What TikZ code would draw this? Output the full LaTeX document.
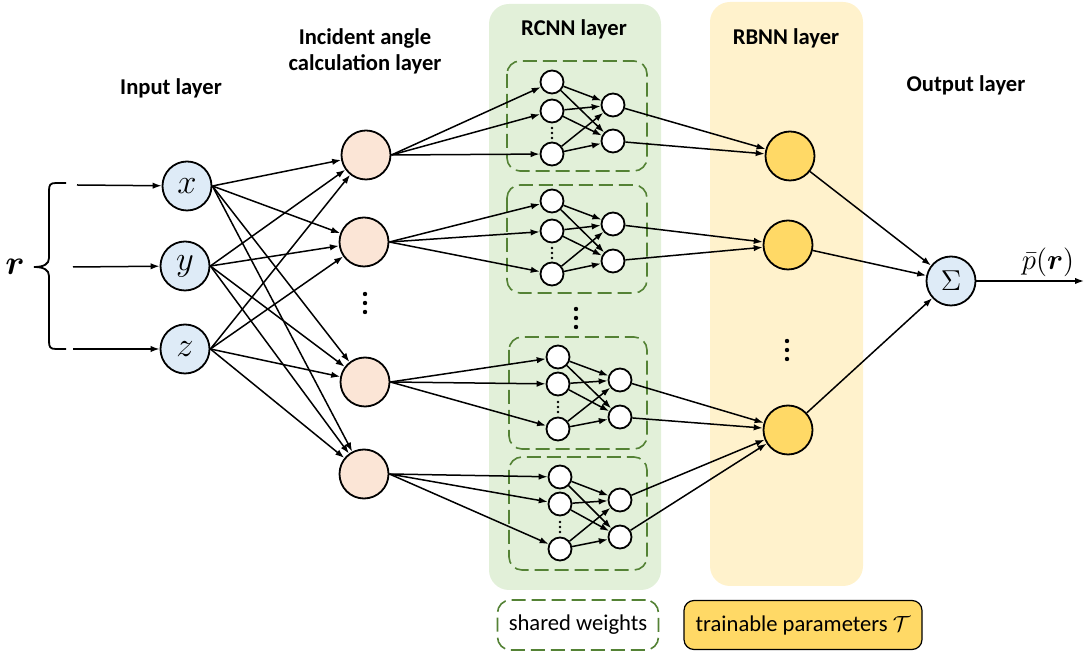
\documentclass[tikz,border=0pt]{standalone}
\usepackage{fontspec}
\setmainfont{Carlito}
\usepackage{amsmath}
\usepackage{bm}
\usetikzlibrary{arrows.meta, backgrounds}
\definecolor{nninput}{HTML}{DEEBF7}
\definecolor{nnangle}{HTML}{FBE5D6}
\definecolor{nnrbnn}{HTML}{FFD966}
\definecolor{nnrcnnbg}{HTML}{E2F0D9}
\definecolor{nnrbnnbg}{HTML}{FFF2CC}
\definecolor{nnshared}{HTML}{548235}

\begin{document}
\begin{tikzpicture}[
    x=0.5pt, y=-0.5pt,
    every node/.style={align=center, inner sep=0pt, font=\fontsize{11.3}{13.5}\selectfont},
    nn-input/.style={circle, draw, line width=0.9pt, fill=nninput,
        minimum size=24.5pt, font=\fontsize{16.5}{18}\selectfont},
    nn-angle/.style={circle, draw, line width=0.9pt, fill=nnangle, minimum size=24.5pt},
    nn-rbnn/.style={circle, draw, line width=0.9pt, fill=nnrbnn, minimum size=24.5pt},
    nn-small/.style={circle, draw, line width=0.9pt, fill=white, minimum size=11.5pt},
    nn-title/.style={font=\fontsize{11.3}{13}\selectfont\bfseries},
    nn-group/.style={draw=nnshared, line width=0.8pt, dash pattern=on 7pt off 3pt,
        rounded corners=6.5pt},
    nn-arrow/.style={-{Latex[length=4.5pt, width=3.2pt]}, line width=0.75pt},
]
    \useasboundingbox (0,0) rectangle (1086,656);

    % ---- BACKGROUND BANDS ----
    \fill[nnrcnnbg, rounded corners=10pt] (489,4) rectangle (661,590);
    \fill[nnrbnnbg, rounded corners=10pt] (710,2) rectangle (863,586);

    % ---- TITLES ----
    \node[nn-title] (t-input)  at (171,88) {Input layer};
    \node[nn-title] (t-angle)  at (365,51) {Incident angle\\calculation layer};
    \node[nn-title] (t-rcnn)   at (574,29) {RCNN layer};
    \node[nn-title] (t-rbnn)   at (786,38) {RBNN layer};
    \node[nn-title] (t-output) at (966,85) {Output layer};

    % ---- INPUT: r and its brace ----
    \node[font=\fontsize{18}{18}\selectfont] (r) at (15,267) {$\bm{r}$};
    \draw[line width=0.9pt] (66,183) -- (56,183) .. controls (50,183) and (49,185) .. (49,191)
        -- (49,258) .. controls (49,264) and (44,267) .. (34,267)
        .. controls (44,267) and (49,270) .. (49,276)
        -- (49,341) .. controls (49,347) and (50,349) .. (56,349) -- (66,349);
    \coordinate (r-x) at (77,185);
    \coordinate (r-y) at (73,267);
    \coordinate (r-z) at (73,349);

    \node[nn-input] (in-x) at (187,186) {$x$};
    \node[nn-input] (in-y) at (185,266) {$y$};
    \node[nn-input] (in-z) at (185,349) {$z$};

    % ---- NODES: incident angle layer ----
    \node[nn-angle] (ang1) at (366,155) {};
    \node[nn-angle] (ang2) at (364,242) {};
    \node[nn-angle] (ang3) at (365,382) {};
    \node[nn-angle] (ang4) at (364,474) {};
    \foreach \dy in {-9,0,9} \fill (365,303+\dy) circle (2.2);

    % ---- NODES: RCNN sub-networks (shared weights) ----
    \draw[nn-group] (507,61) rectangle (647,171);
    \node[nn-small] (rc1l1) at (552,82) {};
    \node[nn-small] (rc1l2) at (552,111) {};
    \node[nn-small] (rc1l3) at (552,154) {};
    \node[nn-small] (rc1r1) at (613,105) {};
    \node[nn-small] (rc1r2) at (613,141) {};

    \draw[nn-group] (507,185) rectangle (647,293);
    \node[nn-small] (rc2l1) at (552,201) {};
    \node[nn-small] (rc2l2) at (552,231) {};
    \node[nn-small] (rc2l3) at (552,274) {};
    \node[nn-small] (rc2r1) at (613,224) {};
    \node[nn-small] (rc2r2) at (613,261) {};

    \foreach \dy in {-9,0,9} \fill (576,318+\dy) circle (2.2);

    \draw[nn-group] (509,337) rectangle (647,449);
    \node[nn-small] (rc3l1) at (558,357) {};
    \node[nn-small] (rc3l2) at (558,384) {};
    \node[nn-small] (rc3l3) at (558,429) {};
    \node[nn-small] (rc3r1) at (620,380) {};
    \node[nn-small] (rc3r2) at (620,417) {};

    \draw[nn-group] (509,457) rectangle (647,570);
    \node[nn-small] (rc4l1) at (560,477) {};
    \node[nn-small] (rc4l2) at (560,504) {};
    \node[nn-small] (rc4l3) at (560,549) {};
    \node[nn-small] (rc4r1) at (620,500) {};
    \node[nn-small] (rc4r2) at (620,537) {};

    % small dots between 2nd and 3rd input neuron
    \foreach \dy in {-5,0,5} {
        \fill (552,133+\dy) circle (1.3);
        \fill (552,253+\dy) circle (1.3);
        \fill (558,407+\dy) circle (1.3);
        \fill (560,527+\dy) circle (1.3);
    }

    % ---- NODES: RBNN and output ----
    \node[nn-rbnn] (rb1) at (790,156) {};
    \node[nn-rbnn] (rb2) at (788,245) {};
    \node[nn-rbnn] (rb3) at (788,430) {};
    \foreach \dy in {-9,0,9} \fill (787,350+\dy) circle (2.2);

    \node[nn-input, font=\fontsize{15}{16}\selectfont] (sum) at (951,281) {$\Sigma$};
    \coordinate (out) at (1084,281);
    \node[font=\fontsize{13.5}{15}\selectfont] (p-out) at (1048,262) {$\bar{p}(\bm{r})$};

    % ---- LEGEND ----
    \node[nn-group, fill=white, minimum width=80.5pt, minimum height=25pt] (leg-shared)
        at (578,625) {shared weights};
    \node[draw, line width=0.6pt, rounded corners=5pt, fill=nnrbnn, minimum width=119pt,
        minimum height=24.5pt] (leg-train) at (803,625) {trainable parameters $\mathcal{T}$};

    % ---- ARROWS: r -> inputs ----
    \draw[nn-arrow] (r-x) -- (in-x);
    \draw[nn-arrow] (r-y) -- (in-y);
    \draw[nn-arrow] (r-z) -- (in-z);

    % ---- ARROWS: inputs -> incident angle layer ----
    \foreach \i in {in-x, in-y, in-z}
        \foreach \j in {ang1, ang2, ang3, ang4}
            \draw[nn-arrow] (\i.east) -- (\j);

    % ---- ARROWS: incident angle -> RCNN ----
    \foreach \k in {1,2,3,4} {
        \foreach \l in {1,2,3}
            \draw[nn-arrow] (ang\k.east) -- (rc\k l\l);
        \foreach \l in {1,2,3}
            \foreach \m in {1,2}
                \draw[nn-arrow] (rc\k l\l) -- (rc\k r\m);
    }

    % ---- ARROWS: RCNN -> RBNN ----
    \draw[nn-arrow] (rc1r1) -- (rb1);
    \draw[nn-arrow] (rc1r2) -- (rb1);
    \draw[nn-arrow] (rc2r1) -- (rb2);
    \draw[nn-arrow] (rc2r2) -- (rb2);
    \draw[nn-arrow] (rc3r1) -- (rb3);
    \draw[nn-arrow] (rc3r2) -- (rb3);
    \draw[nn-arrow] (rc4r1) -- (rb3);
    \draw[nn-arrow] (rc4r2) -- (rb3);

    % ---- ARROWS: RBNN -> output ----
    \draw[nn-arrow] (rb1) -- (sum);
    \draw[nn-arrow] (rb2) -- (sum);
    \draw[nn-arrow] (rb3) -- (sum);
    \draw[nn-arrow] (sum) -- (out);

\end{tikzpicture}
\end{document}
